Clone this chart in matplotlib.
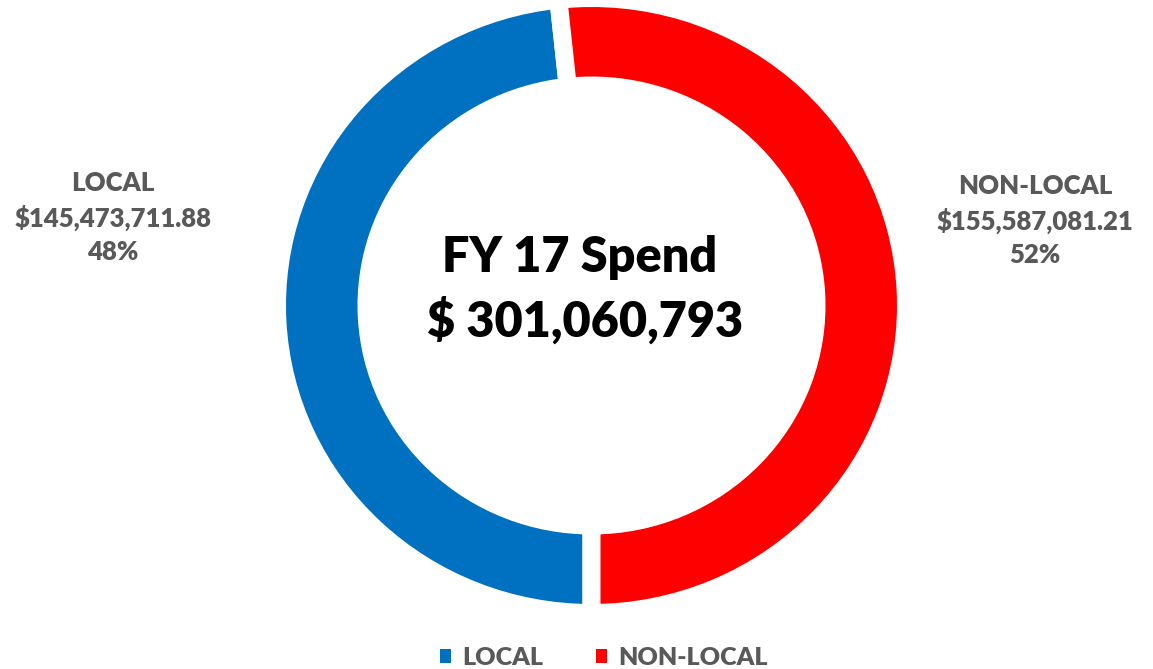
import matplotlib.pyplot as plt
from matplotlib.patches import Patch

# Dados
categorias = ['LOCAL', 'NON-LOCAL']
valores = [145473711.88, 155587081.21]
cores = ['#0070C0', '#FF0000']
titulo = ['FY 17 Spend', '$ 301,060,793']

W, H = 1153, 669
plt.rcParams['font.family'] = ['Lato', 'DejaVu Sans']

fig = plt.figure(figsize=(W / 100, H / 100), dpi=100)

# Donut em eixo próprio (levemente achatado, como no original)
lw_px = 18
cx, cy = 591.5, 305.5
rx, ry = 305.5 + lw_px / 2, 298.5 + lw_px / 2
ax_p = fig.add_axes([(cx - rx) / W, 1 - (cy + ry) / H, 2 * rx / W, 2 * ry / H])
ax_p.pie(valores, colors=cores, radius=1, startangle=-90, counterclock=False,
         wedgeprops=dict(width=1 - (234 - lw_px / 2) / rx, edgecolor='white',
                         linewidth=lw_px * 72 / 100))
ax_p.set_aspect('auto')
ax_p.set_xlim(-1, 1)
ax_p.set_ylim(-1, 1)
ax_p.axis('off')

# Eixo de texto em pixels
ax = fig.add_axes([0, 0, 1, 1], zorder=3)
ax.set_xlim(0, W)
ax.set_ylim(H, 0)
ax.axis('off')

total = sum(valores)
pos_rotulos = [(113, 183), (1035, 186)]
for cat, val, (x, y) in zip(categorias, valores, pos_rotulos):
    linhas = [cat, f'${val:,.2f}', f'{val / total:.0%}']
    for i, txt in enumerate(linhas):
        ax.text(x, y + 34.5 * i, txt, ha='center', va='center',
                fontsize=18.5, color='#595959', fontweight='heavy')

# Texto central
ax.text(580, 257, titulo[0], ha='center', va='center',
        fontsize=35, color='black', fontweight='heavy')
ax.text(585, 320, titulo[1], ha='center', va='center',
        fontsize=35, color='black', fontweight='heavy')

# Legenda
handles = [Patch(facecolor=c, edgecolor='none') for c in cores]
leg = fig.legend(handles, categorias, loc='center',
                 bbox_to_anchor=(604 / W, 1 - 658 / H), ncol=2, frameon=False,
                 handlelength=0.45, handleheight=0.45, handletextpad=0.45,
                 columnspacing=2.1, prop={'size': 18, 'weight': 'heavy'})
for t in leg.get_texts():
    t.set_color('#595959')

fig.savefig('out.png', dpi=100)
